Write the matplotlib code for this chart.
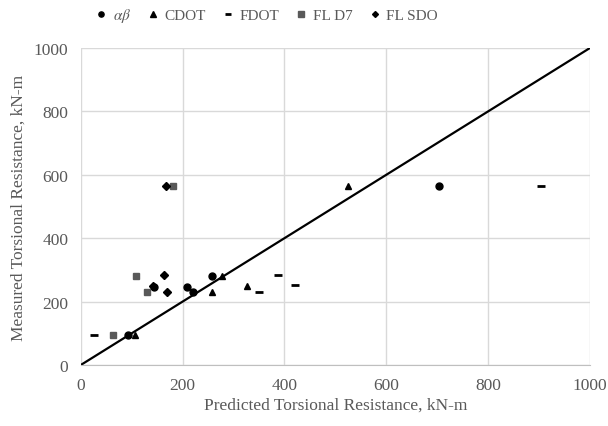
import matplotlib.pyplot as plt

plt.rcParams['font.family'] = ['Liberation Serif', 'DejaVu Serif']
plt.rcParams['mathtext.fontset'] = 'stix'

# data (predicted, measured), kN-m
ab_x = [92, 143, 209, 221, 258, 703]
ab_y = [96, 247, 247, 230, 282, 566]
cdot_x = [106, 258, 327, 277, 524]
cdot_y = [96, 230, 249, 282, 564]
fdot_x = [25, 351, 420, 388, 904]
fdot_y = [96, 230, 253, 285, 566]
d7_x = [64, 129, 109, 182]
d7_y = [96, 230, 280, 566]
sdo_x = [169, 142, 164, 168]
sdo_y = [230, 248, 283, 566]

ticks = [0, 200, 400, 600, 800, 1000]
grey = '#595959'

fig = plt.figure(figsize=(6.08, 4.27), dpi=100)
ax = fig.add_axes([0.133, 0.143, 0.837, 0.742])

ax.plot(ab_x, ab_y, 'o', color='black', ms=5, label=r'$\alpha\beta$', zorder=3)
ax.plot(cdot_x, cdot_y, '^', color='black', ms=5, label='CDOT', zorder=3)
ax.plot(fdot_x, fdot_y, '_', color='black', ms=6, mew=2, label='FDOT', zorder=3)
ax.plot(d7_x, d7_y, 's', color=grey, ms=5, label='FL D7', zorder=3)
ax.plot(sdo_x, sdo_y, 'D', color='black', ms=4, label='FL SDO', zorder=4)

# line of equality
ax.plot([0, 1000], [0, 1000], color='black', lw=1.6, zorder=2)

ax.set_xlim(0, 1000)
ax.set_ylim(0, 1000)
ax.set_xticks(ticks)
ax.set_yticks(ticks)
ax.grid(True, color='#d9d9d9', lw=1)
ax.set_axisbelow(True)
for s in ['top', 'right', 'left']:
    ax.spines[s].set_visible(False)
ax.spines['bottom'].set_color('#bfbfbf')
ax.tick_params(length=0, labelsize=12.5, labelcolor=grey, pad=9)

ax.set_xlabel('Predicted Torsional Resistance, kN-m', fontsize=12.5, color=grey, labelpad=2)
ax.set_ylabel('Measured Torsional Resistance, kN-m', fontsize=12.5, color=grey, labelpad=5)

leg = fig.legend(loc='upper left', bbox_to_anchor=(0.135, 1.015), ncol=5, frameon=False,
                 fontsize=11, handletextpad=0.4, columnspacing=1.1, handlelength=0.7,
                 markerscale=0.75)
for t in leg.get_texts():
    t.set_color(grey)

fig.savefig('out.png', dpi=100)
